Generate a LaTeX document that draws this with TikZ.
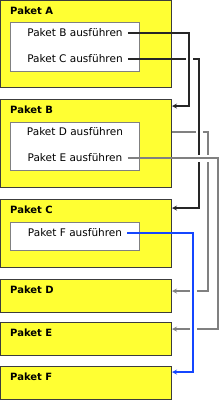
\documentclass[tikz,border=0pt]{standalone}
\usepackage{fontspec}
\setmainfont{DejaVu Sans}
\usetikzlibrary{arrows}
\definecolor{paketgelb}{RGB}{255,255,51}
\definecolor{rahmen}{RGB}{60,60,60}
\definecolor{grauline}{RGB}{128,128,128}
\definecolor{blauline}{RGB}{20,70,255}

\begin{document}
\begin{tikzpicture}[x=1pt,y=-1pt,>=stealth]
  \tikzstyle{paket}=[draw=rahmen, fill=paketgelb, line width=1pt, rectangle, anchor=north west, minimum width=171pt, inner sep=0pt]
  \tikzstyle{titel}=[anchor=west, inner sep=0pt, font=\bfseries\fontsize{10}{12}\selectfont]
  \tikzstyle{liste}=[draw=grauline, fill=white, line width=0.8pt, rectangle, anchor=north west, minimum width=129pt, inner sep=0pt]
  \tikzstyle{aufruf}=[inner sep=0pt, font=\fontsize{10.5}{12}\selectfont]
  \tikzstyle{linie}=[line width=1.2pt]
  \tikzstyle{halo}=[preaction={draw=white, line width=7pt, -}]
  \useasboundingbox (0,0) rectangle (220,400);

  \node[paket, minimum height=87pt] (pA) at (0,0) {};
  \node[paket, minimum height=88pt] (pB) at (0,99) {};
  \node[paket, minimum height=68pt] (pC) at (0,199) {};
  \node[paket, minimum height=33pt] (pD) at (0,279) {};
  \node[paket, minimum height=33pt] (pE) at (0,322) {};
  \node[paket, minimum height=33pt] (pF) at (0,366) {};

  \node[titel] (tA) at (10,11) {Paket A};
  \node[titel] (tB) at (10,110) {Paket B};
  \node[titel] (tC) at (10,210) {Paket C};
  \node[titel] (tD) at (10,290) {Paket D};
  \node[titel] (tE) at (10,333) {Paket E};
  \node[titel] (tF) at (10,377) {Paket F};

  \node[liste, minimum height=49pt] (lA) at (10,22) {};
  \node[liste, minimum height=48pt] (lB) at (10,122) {};
  \node[liste, minimum height=28pt] (lC) at (10,222) {};

  \node[aufruf] (aB) at (75,33) {Paket B ausführen};
  \node[aufruf] (aC) at (75,59) {Paket C ausführen};
  \node[aufruf] (aD) at (75,132) {Paket D ausführen};
  \node[aufruf] (aE) at (75,158) {Paket E ausführen};
  \node[aufruf] (aF) at (75,233) {Paket F ausführen};

  % Spalten der Verbindungen
  \coordinate (sB) at (189,0);
  \coordinate (sC) at (199,0);
  \coordinate (sD) at (208,0);
  \coordinate (sE) at (218,0);
  \coordinate (sF) at (193,0);
  \coordinate (zB) at ([yshift=-7pt]pB.north east);
  \coordinate (zC) at ([yshift=-9pt]pC.north east);
  \coordinate (zD) at ([yshift=-12pt]pD.north east);
  \coordinate (zE) at ([yshift=-7pt]pE.north east);
  \coordinate (zF) at ([yshift=-6pt]pF.north east);

  % D
  \draw[linie, grauline, ->] (pB.east |- aD) -- (sD |- aD) -- (sD |- zD) -- (zD);
  % C
  \draw[linie, black!85] ([xshift=5pt]aC.east) -- (pA.east |- aC);
  \draw[linie, black!85, halo, ->] (pA.east |- aC) -- (sC |- aC) -- (sC |- zC) -- (zC);
  % B
  \draw[linie, black!85] ([xshift=5pt]aB.east) -- (pA.east |- aB);
  \draw[linie, black!85, halo, ->] (pA.east |- aB) -- (sB |- aB) -- (sB |- zB) -- (zB);
  % E
  \draw[linie, grauline] ([xshift=5pt]aE.east) -- (pB.east |- aE);
  \draw[linie, grauline, halo, ->] (pB.east |- aE) -- (sE |- aE) -- (sE |- zE) -- (zE);
  % F
  \draw[linie, blauline] ([xshift=5pt]aF.east) -- (pC.east |- aF);
  \draw[linie, blauline, halo, ->] (pC.east |- aF) -- (sF |- aF) -- (sF |- zF) -- (zF);
\end{tikzpicture}
\end{document}
